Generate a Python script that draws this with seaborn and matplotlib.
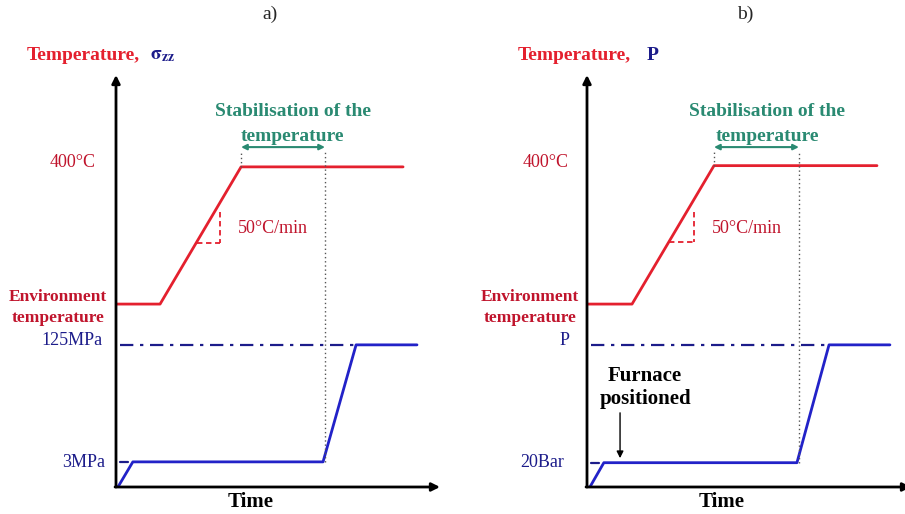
import matplotlib
matplotlib.use("Agg")
import matplotlib.pyplot as plt
import seaborn as sns
import pandas as pd

sns.set_theme(style="white")
plt.rcParams["font.family"] = ["Liberation Serif", "DejaVu Serif"]
plt.rcParams["mathtext.fontset"] = "stix"

# Schematic time base (arbitrary units) and signal levels
temp_time_a = [0.0, 1.36, 3.86, 8.86]
temp_level_a = [4.44, 4.44, 7.77, 7.77]
load_time_a = [0.06, 0.52, 6.39, 7.41, 9.29]
load_level_a = [0.0, 0.61, 0.61, 3.45, 3.45]

temp_time_b = [0.0, 1.39, 3.92, 8.95]
temp_level_b = [4.44, 4.44, 7.80, 7.80]
load_time_b = [0.09, 0.52, 6.48, 7.47, 9.35]
load_level_b = [0.0, 0.59, 0.59, 3.45, 3.45]

stab_end_a = 6.45
stab_end_b = 6.54
target_label_a = "125MPa"
start_label_a = "3MPa"
target_label_b = "P"
start_label_b = "20Bar"

RED = "#e4202e"
DARK_RED = "#c0142c"
BLUE = "#2222c8"
NAVY = "#1c1c8a"
GREEN = "#2a8a72"

fig = plt.figure(figsize=(9.05, 5.14), dpi=100)
W, H = 905, 514


def make_axes(x0):
    ax = fig.add_axes([x0 / W, (H - 487) / H, 324 / W, 412 / H])
    ax.set_xlim(0, 10)
    ax.set_ylim(0, 10)
    ax.axis("off")
    # axes with arrow heads
    ax.annotate("", xy=(0, 10), xytext=(0, 0),
                arrowprops=dict(arrowstyle="-|>", color="black", lw=2,
                                mutation_scale=12, shrinkA=0, shrinkB=0),
                annotation_clip=False)
    ax.annotate("", xy=(10, 0), xytext=(-0.03, 0),
                arrowprops=dict(arrowstyle="-|>", color="black", lw=2,
                                mutation_scale=12, shrinkA=0, shrinkB=0),
                annotation_clip=False)
    return ax


def draw_panel(ax, tt, tl, lt, ll, stab_end, top_label, low_label,
               top_lx, low_lx, title_x, title_main, title_sym, sym_dx,
               env_x, c400_x, stab_x, rate_x, tri):
    df_t = pd.DataFrame({"t": tt, "v": tl})
    df_l = pd.DataFrame({"t": lt, "v": ll})
    sns.lineplot(data=df_t, x="t", y="v", ax=ax, color=RED, lw=2,
                 sort=False, estimator=None)
    sns.lineplot(data=df_l, x="t", y="v", ax=ax, color=BLUE, lw=2,
                 sort=False, estimator=None)

    # reference levels
    ax.plot([0.12, lt[3]], [ll[3], ll[3]], color=NAVY, lw=1.6,
            dashes=(6, 3, 1.5, 3))
    ax.plot([0.12, 0.37], [ll[1], ll[1]], color=NAVY, lw=1.6)

    # stabilisation window
    ax.plot([stab_end, stab_end], [ll[2], 8.15], color="#555555", lw=1,
            ls=(0, (1, 2)))
    ax.plot([tt[2], tt[2]], [tl[2], 8.15], color="#555555", lw=1,
            ls=(0, (1, 2)))
    ax.annotate("", xy=(stab_end, 8.25), xytext=(tt[2], 8.25),
                arrowprops=dict(arrowstyle="<|-|>", color=GREEN, lw=1.5,
                                mutation_scale=8, shrinkA=0, shrinkB=0))

    # heating-rate slope triangle
    tx0, tx1, ty0, ty1 = tri
    ax.plot([tx1, tx1], [ty1, ty0], color=RED, lw=1.3, dashes=(3, 2))
    ax.plot([tx0, tx1], [ty0, ty0], color=RED, lw=1.3, dashes=(3, 2))
    ax.text(rate_x, 6.27, "50°C/min", color=DARK_RED, fontsize=13,
            ha="left", va="center")

    ax.text(stab_x, 9.12, "Stabilisation of the", color=GREEN, fontsize=14,
            fontweight="bold", ha="center", va="center")
    ax.text(stab_x, 8.51, "temperature", color=GREEN, fontsize=14,
            fontweight="bold", ha="center", va="center")

    ax.text(c400_x, 7.87, "400°C", color=DARK_RED, fontsize=13,
            ha="center", va="center", clip_on=False)
    ax.text(env_x, 4.61, "Environment", color=DARK_RED, fontsize=12.5,
            fontweight="bold", ha="center", va="center", clip_on=False)
    ax.text(env_x, 4.10, "temperature", color=DARK_RED, fontsize=12.5,
            fontweight="bold", ha="center", va="center", clip_on=False)
    ax.text(top_lx, 3.56, top_label, color=NAVY, fontsize=13,
            ha="right", va="center", clip_on=False)
    ax.text(low_lx, 0.60, low_label, color=NAVY, fontsize=13,
            ha="right", va="center", clip_on=False)

    ax.text(4.17, -0.36, "Time", color="black", fontsize=15,
            fontweight="bold", ha="center", va="center", clip_on=False)

    ax.text(title_x, 10.47, title_main, color=RED, fontsize=14,
            fontweight="bold", ha="left", va="center", clip_on=False)
    ax.text(title_x + sym_dx, 10.47, title_sym, color=NAVY, fontsize=14,
            fontweight="bold", ha="left", va="center", clip_on=False)


ax_a = make_axes(116)
draw_panel(ax_a, temp_time_a, temp_level_a, load_time_a, load_level_a,
           stab_end_a, target_label_a, start_label_a, -0.43, -0.34,
           -2.75, "Temperature,", r"$\mathbf{\sigma_{zz}}$", 3.80,
           -1.79, -1.33, 5.46, 3.77, (2.50, 3.21, 5.92, 6.67))

ax_b = make_axes(587)
draw_panel(ax_b, temp_time_b, temp_level_b, load_time_b, load_level_b,
           stab_end_b, target_label_b, start_label_b, -0.55, -0.71,
           -2.13, "Temperature,", "P", 3.98,
           -1.76, -1.27, 5.56, 3.86, (2.53, 3.30, 5.95, 6.67))

ax_b.text(1.79, 2.69, "Furnace", color="black", fontsize=15,
          fontweight="bold", ha="center", va="center")
ax_b.text(1.79, 2.14, "positioned", color="black", fontsize=15,
          fontweight="bold", ha="center", va="center")
ax_b.annotate("", xy=(1.02, 0.70), xytext=(1.02, 1.80),
              arrowprops=dict(arrowstyle="-|>", color="black", lw=1,
                              mutation_scale=10, shrinkA=0, shrinkB=0))

fig.text(270 / W, 1 - 14 / H, "a)", fontsize=14, ha="center", va="center")
fig.text(745 / W, 1 - 14 / H, "b)", fontsize=14, ha="center", va="center")

fig.savefig("out.png", dpi=100)
